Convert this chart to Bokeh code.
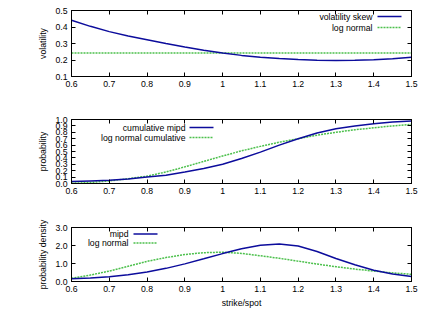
from bokeh.plotting import figure
from bokeh.layouts import column
from bokeh.models import (LinearAxis, FixedTicker, CustomJSTickFormatter, Label, Arrow,
                          Range1d, CustomLabelingPolicy)
from bokeh.embed import file_html
from bokeh.resources import INLINE

strike = [0.60, 0.65, 0.70, 0.75, 0.80, 0.85, 0.90, 0.95, 1.00, 1.05,
          1.10, 1.15, 1.20, 1.25, 1.30, 1.35, 1.40, 1.45, 1.50]

vol_skew = [0.441, 0.404, 0.372, 0.346, 0.323, 0.300, 0.279, 0.259, 0.242, 0.228,
            0.217, 0.209, 0.203, 0.199, 0.197, 0.198, 0.201, 0.207, 0.216]
vol_lognormal = [0.242] * len(strike)

cum_mipd = [0.03, 0.04, 0.05, 0.07, 0.10, 0.13, 0.18, 0.235, 0.30, 0.39,
            0.49, 0.60, 0.70, 0.79, 0.855, 0.90, 0.935, 0.96, 0.975]
cum_lognormal = [0.005, 0.015, 0.04, 0.075, 0.115, 0.18, 0.26, 0.345, 0.43, 0.51,
                 0.58, 0.645, 0.70, 0.755, 0.80, 0.84, 0.87, 0.90, 0.925]

pdf_mipd = [0.15, 0.20, 0.27, 0.38, 0.53, 0.73, 0.98, 1.26, 1.55, 1.82,
            2.02, 2.09, 1.97, 1.67, 1.28, 0.93, 0.63, 0.42, 0.28]
pdf_lognormal = [0.18, 0.36, 0.58, 0.85, 1.12, 1.33, 1.50, 1.60, 1.63, 1.56,
                 1.43, 1.29, 1.13, 0.97, 0.82, 0.69, 0.58, 0.48, 0.40]

x_ticks = [0.6, 0.7, 0.8, 0.9, 1.0, 1.1, 1.2, 1.3, 1.4, 1.5]
vol_ticks = [0.1, 0.2, 0.3, 0.4, 0.5]
cum_ticks = [0.0, 0.1, 0.2, 0.3, 0.4, 0.5, 0.6, 0.7, 0.8, 0.9, 1.0]
pdf_ticks = [0.0, 1.0, 2.0, 3.0]

BLUE = "#0c0c9c"
GREEN = "#4cc04c"
FONT = "Liberation Sans"
FS = "8.7px"

fmt_g = "return String(Math.round(tick*10)/10)"
fmt_1 = "return tick.toFixed(1)"
no_labels = "for (const i of Array.from(indices)) { indices.unset(i) } return indices"


def style_axis(ax, ticks, code, labels=True):
    ax.ticker = FixedTicker(ticks=ticks)
    ax.formatter = CustomJSTickFormatter(code=code)
    ax.major_tick_in = 4
    ax.major_tick_out = 0
    ax.minor_tick_line_color = None
    ax.major_tick_line_color = "black"
    ax.axis_line_color = "black"
    ax.major_label_text_font = FONT
    ax.major_label_text_color = "black"
    ax.major_label_text_font_size = FS
    ax.axis_label_text_font = FONT
    ax.axis_label_text_font_size = FS
    ax.axis_label_text_font_style = "normal"
    ax.axis_label_text_color = "black"
    if labels:
        ax.major_label_standoff = 4
    else:
        ax.major_label_standoff = 0
        ax.major_label_policy = CustomLabelingPolicy(code=no_labels)


def make_fig(h, top, bottom, ylo, yhi, yticks, ycode, ylabel, xlabel=None):
    p = figure(width=443, height=h, output_backend="svg", toolbar_location=None,
               x_range=Range1d(0.6, 1.5), y_range=Range1d(ylo, yhi),
               min_border_left=71, min_border_right=32,
               min_border_top=top, min_border_bottom=bottom)
    p.grid.visible = False
    p.outline_line_color = "black"
    p.outline_line_width = 1
    p.background_fill_color = "white"
    p.border_fill_color = "white"
    style_axis(p.xaxis[0], x_ticks, fmt_g)
    style_axis(p.yaxis[0], yticks, ycode)
    p.yaxis[0].axis_label = ylabel
    p.yaxis[0].axis_label_standoff = 4
    if xlabel:
        p.xaxis[0].axis_label = xlabel
        p.xaxis[0].axis_label_standoff = 3
    ra = LinearAxis()
    style_axis(ra, yticks, ycode, labels=False)
    p.add_layout(ra, "right")
    ta = LinearAxis()
    style_axis(ta, x_ticks, fmt_g, labels=False)
    p.add_layout(ta, "above")
    return p


def key(p, entries, xr, y0, dy, x1, x2):
    for i, (txt, color, dash, lw) in enumerate(entries):
        y = y0 - i * dy
        p.add_layout(Label(x=xr, y=y, x_units="screen", y_units="screen", text=txt,
                           text_align="right", text_baseline="middle",
                           text_font=FONT, text_font_size=FS, text_color="black"))
        p.add_layout(Arrow(end=None, x_start=x1, y_start=y, x_end=x2, y_end=y,
                           start_units="screen", end_units="screen",
                           line_color=color, line_width=lw, line_dash=dash))


p1 = make_fig(100, 10, 24, 0.1, 0.5, vol_ticks, fmt_g, "volatility")
p1.line(strike, vol_lognormal, line_color=GREEN, line_width=1.5, line_dash="2 1")
p1.line(strike, vol_skew, line_color=BLUE, line_width=1.5)
key(p1, [("volatility skew", BLUE, "solid", 1.5), ("log normal", GREEN, "2 1", 1.5)],
    301, 60, 11, 306, 330)

p2 = make_fig(108, 19, 25, 0.0, 1.0, cum_ticks, fmt_1, "probability")
p2.line(strike, cum_lognormal, line_color=GREEN, line_width=1.5, line_dash="2 1")
p2.line(strike, cum_mipd, line_color=BLUE, line_width=1.5)
key(p2, [("cumulative mipd", BLUE, "solid", 1.5), ("log normal cumulative", GREEN, "2 1", 1.5)],
    114, 56, 10, 118, 142)

p3 = make_fig(102, 19, 28, 0.0, 3.0, pdf_ticks, fmt_1, "probability density", "strike/spot")
p3.line(strike, pdf_lognormal, line_color=GREEN, line_width=1.5, line_dash="2 1")
p3.line(strike, pdf_mipd, line_color=BLUE, line_width=1.5)
key(p3, [("mipd", BLUE, "solid", 1.5), ("log normal", GREEN, "2 1", 1.5)],
    57, 47.5, 9, 62, 86)

layout = column(p1, p2, p3, spacing=0)
open("out.html", "w").write(file_html(layout, INLINE))
